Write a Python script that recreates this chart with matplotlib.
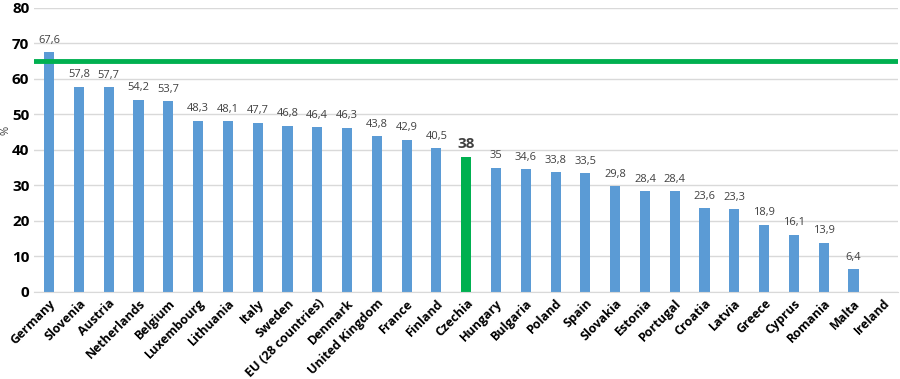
import numpy as np
import matplotlib
matplotlib.use('Agg')
import matplotlib.pyplot as plt

countries = ['Germany', 'Slovenia', 'Austria', 'Netherlands', 'Belgium', 'Luxembourg',
             'Lithuania', 'Italy', 'Sweden', 'EU (28 countries)', 'Denmark', 'United Kingdom',
             'France', 'Finland', 'Czechia', 'Hungary', 'Bulgaria', 'Poland', 'Spain',
             'Slovakia', 'Estonia', 'Portugal', 'Croatia', 'Latvia', 'Greece', 'Cyprus',
             'Romania', 'Malta', 'Ireland']
values = [67.6, 57.8, 57.7, 54.2, 53.7, 48.3, 48.1, 47.7, 46.8, 46.4, 46.3, 43.8,
          42.9, 40.5, 38, 35, 34.6, 33.8, 33.5, 29.8, 28.4, 28.4, 23.6, 23.3, 18.9,
          16.1, 13.9, 6.4, np.nan]
target = 65
highlight = 'Czechia'

plt.rcParams['font.family'] = ['Open Sans', 'DejaVu Sans']

fig = plt.figure(figsize=(9, 3.79), dpi=100)
ax = fig.add_axes([0.038, 0.2296, 0.96, 0.7494])

x = np.arange(len(countries))
colors = ['#00B050' if c == highlight else '#5B9BD5' for c in countries]
ax.bar(x, np.nan_to_num(values), width=0.34, color=colors, zorder=2)

for xi, c, v in zip(x, countries, values):
    if np.isnan(v):
        continue
    txt = ('%g' % v).replace('.', ',')
    if c == highlight:
        ax.text(xi, v + 1.8, txt, ha='center', va='bottom', fontsize=11,
                fontweight='bold', color='#404040')
    else:
        ax.text(xi, v + 1.8, txt, ha='center', va='bottom', fontsize=8,
                color='#404040')

ax.axhline(target, color='#00B050', linewidth=3.5, zorder=3)

ax.set_xlim(-0.5, len(countries) - 0.5)
ax.set_ylim(0, 80)
ax.set_yticks(range(0, 81, 10))
ax.yaxis.grid(True, color='#D9D9D9', linewidth=1, zorder=0)
ax.set_axisbelow(True)
for s in ['top', 'right', 'left']:
    ax.spines[s].set_visible(False)
ax.spines['bottom'].set_color('#D9D9D9')
ax.tick_params(axis='both', length=0)
ax.set_xticks(x)
ax.set_xticklabels(countries, rotation=45, ha='right', rotation_mode='anchor',
                   fontsize=9, fontweight='bold')
for lbl in ax.get_yticklabels():
    lbl.set_fontweight('bold')
    lbl.set_fontsize(11)
ax.set_ylabel('%', fontsize=8, color='#404040')
ax.yaxis.set_label_coords(-0.026, 0.57)

fig.savefig('out.png', dpi=100)
